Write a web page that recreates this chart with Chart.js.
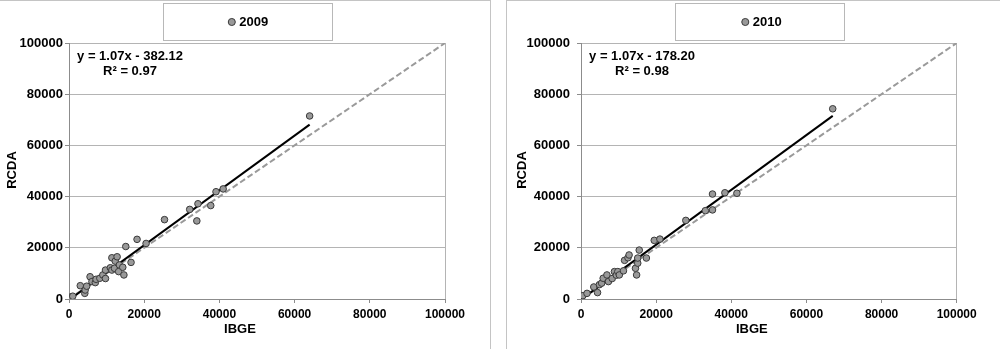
<!DOCTYPE html>
<html>
<head>
<meta charset="utf-8">
<script src="https://cdn.jsdelivr.net/npm/chart.js@4"></script>
<style>
  body { margin: 0; background: #fff; }
  .panel { position: absolute; top: 0; height: 349px; box-sizing: border-box; border-top: 1px solid #c4c4c4; }
  .panel canvas { display: block; }
  #p1 { left: 0; width: 491px; border-right: 1px solid #c4c4c4; }
  #p2 { left: 506px; width: 494px; border-left: 1px solid #c4c4c4; }
</style>
</head>
<body>
<div class="panel" id="p1"><canvas id="c2009" width="490" height="348"></canvas></div>
<div class="panel" id="p2"><canvas id="c2010" width="493" height="348"></canvas></div>
<script>
// values (IBGE vs RCDA)
const years = ['2009', '2010'];
const axisTicks = [0, 20000, 40000, 60000, 80000, 100000];

const ibge2009 = [500, 1000, 3000, 4200, 4300, 4700, 5600, 6100, 7000, 7200, 8200, 9000, 9700, 9700,
  11000, 11400, 11400, 12100, 12300, 12800, 13200, 13400, 14300, 14600, 15100, 16500, 18100, 20500,
  25400, 32100, 34000, 34300, 37700, 39100, 41000, 64000];
const rcda2009 = [800, 1100, 5200, 2200, 3500, 5000, 8700, 6800, 6400, 7700, 8100, 9400, 8000, 11300,
  12200, 11300, 16100, 12000, 14800, 16500, 10700, 13300, 12400, 9400, 20500, 14300, 23300, 21700,
  31000, 35000, 30500, 37200, 36500, 41900, 43000, 71500];

const ibge2010 = [500, 1600, 3400, 4400, 4900, 5500, 5900, 6900, 7300, 8300, 8900, 9400, 9800, 10200,
  11300, 11600, 12500, 12800, 14500, 14800, 15100, 15100, 15500, 17400, 19500, 21000, 27900, 33100,
  35000, 35000, 38300, 41500, 67000];
const rcda2010 = [1300, 2200, 4700, 2500, 5600, 6200, 8100, 9400, 6800, 8000, 10700, 9300, 10700, 9400,
  11000, 15100, 16100, 17200, 12000, 9400, 14000, 16000, 19100, 16000, 22900, 23400, 30700, 34500,
  34800, 41000, 41500, 41300, 74300];

const slopes = [1.07, 1.07];
const intercepts = [-382.12, -178.20];
const rSquared = [0.97, 0.98];

const FONT = '"Liberation Sans", Arial, sans-serif';
Chart.defaults.font.family = FONT;

// legend frame, regression text and axis titles
const panelDecor = {
  id: 'panelDecor',
  beforeDraw(chart, args, opts) {
    const ctx = chart.ctx;
    ctx.save();
    ctx.strokeStyle = '#b8b8b8';
    ctx.lineWidth = 1;
    ctx.strokeRect(opts.boxLeft + 0.5, 2.5, 169, 37);
    ctx.restore();
  },
  afterDraw(chart, args, opts) {
    const {ctx, chartArea: a} = chart;
    const i = opts.index;
    const sign = intercepts[i] < 0 ? '-' : '+';
    ctx.save();
    ctx.fillStyle = '#000';
    ctx.font = 'bold 13px ' + FONT;
    ctx.textAlign = 'center';
    ctx.textBaseline = 'middle';
    ctx.fillText('y = ' + slopes[i].toFixed(2) + 'x ' + sign + ' ' + Math.abs(intercepts[i]).toFixed(2), a.left + 61, a.top + 13.5);
    ctx.fillText('R² = ' + rSquared[i].toFixed(2), a.left + 61, a.top + 28);
    ctx.fillText('IBGE', (a.left + a.right) / 2 - 17, a.bottom + 30);
    ctx.translate(a.left - opts.titleGap, (a.top + a.bottom) / 2 - 1);
    ctx.rotate(-Math.PI / 2);
    ctx.fillText('RCDA', 0, 0);
    ctx.restore();
  }
};

function makeChart(id, i, xs, ys, opt) {
  const lo = Math.min(...xs), hi = Math.max(...xs);
  const first = axisTicks[0], last = axisTicks[axisTicks.length - 1];
  const tickFont = size => ({size: size, weight: 'bold', family: FONT});

  new Chart(document.getElementById(id), {
    type: 'scatter',
    data: {
      datasets: [{
        label: years[i],
        data: xs.map((x, k) => ({x: x, y: ys[k]})),
        backgroundColor: '#999999',
        borderColor: '#3a3a3a',
        borderWidth: 1,
        pointRadius: 3.3,
        pointStyle: 'circle'
      }, {
        label: 'trend',
        data: [lo, hi].map(x => ({x: x, y: slopes[i] * x + intercepts[i]})),
        showLine: true,
        borderColor: '#000',
        borderWidth: 2,
        pointRadius: 0
      }, {
        label: '1:1',
        data: [first, last].map(v => ({x: v, y: v})),
        showLine: true,
        borderColor: '#9a9a9a',
        borderWidth: 2,
        borderDash: [6, 3],
        pointRadius: 0
      }]
    },
    plugins: [panelDecor],
    options: {
      responsive: false,
      animation: false,
      layout: { padding: { left: opt.padLeft } },
      plugins: {
        legend: {
          position: 'top',
          labels: {
            filter: it => it.datasetIndex === 0,
            usePointStyle: true,
            boxWidth: 2,
            boxHeight: 5,
            padding: 14.5,
            color: '#000',
            font: tickFont(13)
          }
        },
        tooltip: { enabled: false },
        panelDecor: { index: i, boxLeft: opt.boxLeft, titleGap: opt.titleGap }
      },
      scales: {
        x: {
          type: 'linear', min: first, max: last,
          ticks: { stepSize: axisTicks[1] - axisTicks[0], padding: 4, color: '#000', font: tickFont(12), callback: v => String(v) },
          grid: { color: c => (c.tick && c.tick.value === last) ? '#b4b4b4' : 'rgba(0,0,0,0)', tickColor: '#8c8c8c', tickLength: 4 },
          border: { color: '#8c8c8c' },
          afterFit: s => { s.height = 50; }
        },
        y: {
          type: 'linear', min: first, max: last,
          ticks: { stepSize: axisTicks[1] - axisTicks[0], padding: opt.tickPad, color: '#000', font: tickFont(13), callback: v => String(v) },
          grid: { color: '#b4b4b4', tickColor: '#8c8c8c', tickLength: 4 },
          border: { color: '#8c8c8c' },
          afterFit: s => { s.width = opt.yWidth; }
        },
        padT: {
          type: 'linear', position: 'top', display: true,
          ticks: { display: false }, grid: { display: false }, border: { display: false },
          afterFit: s => { s.height = 4.5; }
        },
        padR: {
          type: 'linear', position: 'right', display: true,
          ticks: { display: false }, grid: { display: false }, border: { display: false },
          afterFit: s => { s.width = opt.padRight; }
        }
      }
    }
  });
}

makeChart('c2009', 0, ibge2009, rcda2009, { padLeft: 9, yWidth: 60, padRight: 45, tickPad: 2, boxLeft: 163, titleGap: 57 });
makeChart('c2010', 1, ibge2010, rcda2010, { padLeft: 19, yWidth: 55, padRight: 43.3, tickPad: 7, boxLeft: 168, titleGap: 58.3 });
</script>
</body>
</html>
